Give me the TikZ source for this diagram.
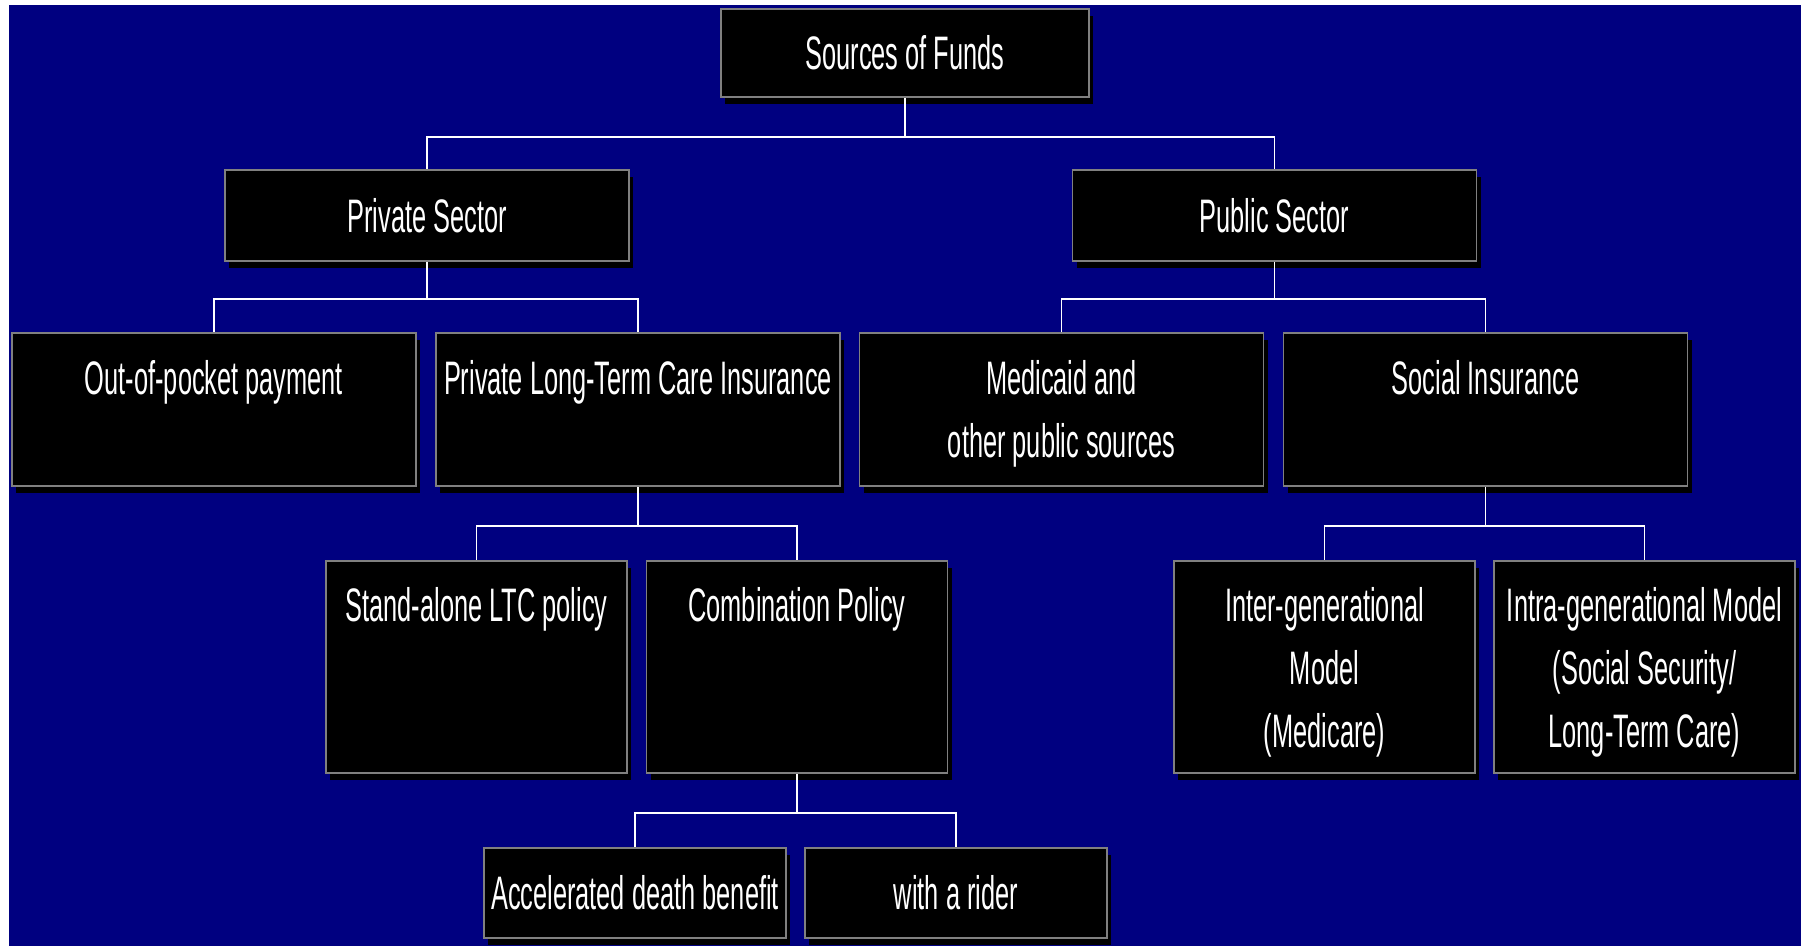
\documentclass[tikz,border=0pt]{standalone}
\usepackage{fontspec}
\setmainfont{Liberation Sans}[FakeStretch=0.54]
\usetikzlibrary{positioning,shadows}
\definecolor{slideblue}{RGB}{0,0,128}
\tikzset{
  fundbox/.style={draw=gray, line width=1.5pt, fill=black, inner sep=0pt,
    drop shadow={shadow xshift=4pt, shadow yshift=-7pt, opacity=1, fill=black},
    text=white, font=\fontsize{47}{63}\selectfont},
  fundtext/.style={inner sep=0pt, align=center, text=white, font=\fontsize{47}{63}\selectfont},
  link/.style={white, line width=1.6pt}
}

\begin{document}
\begin{tikzpicture}[x=1pt, y=-1pt]
            \useasboundingbox (0,0) rectangle (1804,946);
            \fill [slideblue] (9,5) rectangle (1801,946);
         % Top level
            \node [fundbox, minimum width=368, minimum height=88] (src) at (905,53) {Sources of Funds};
            \node [fundbox, minimum width=404, minimum height=91] (priv) at (427,215.5) {Private Sector};
            \node [fundbox, minimum width=404, minimum height=91] (pub) at (1274.5,215.5) {Public Sector};
         % Second level
            \node [fundbox, minimum width=404, minimum height=153] (oop) at (214,409.5) {};
            \node [fundbox, minimum width=404, minimum height=153] (pltc) at (638,409.5) {};
            \node [fundbox, minimum width=404, minimum height=153] (med) at (1061.5,409.5) {};
            \node [fundbox, minimum width=404, minimum height=153] (soc) at (1485.5,409.5) {};
            \node [fundtext, below=28pt of oop.north] (oopt) {Out-of-pocket payment};
            \node [fundtext, below=28pt of pltc.north] (pltct) {Private Long-Term Care Insurance};
            \node [fundtext, below=28pt of med.north] (medt) {Medicaid and\\other public sources};
            \node [fundtext, below=28pt of soc.north] (soct) {Social Insurance};
         % Third level
            \node [fundbox, minimum width=301, minimum height=212] (sa) at (476.5,667) {};
            \node [fundbox, minimum width=301, minimum height=212] (comb) at (797,667) {};
            \node [fundbox, minimum width=301, minimum height=212] (inter) at (1324.5,667) {};
            \node [fundbox, minimum width=301, minimum height=212] (intra) at (1644.5,667) {};
            \node [fundtext, below=27pt of sa.north] (sat) {Stand-alone LTC policy};
            \node [fundtext, below=27pt of comb.north] (combt) {Combination Policy};
            \node [fundtext, below=27pt of inter.north] (intert) {Inter-generational\\Model\\(Medicare)};
            \node [fundtext, below=27pt of intra.north] (intrat) {Intra-generational Model\\(Social Security/\\Long-Term Care)};
         % Bottom level
            \node [fundbox, minimum width=302, minimum height=90] (adb) at (635,893) {Accelerated death benefit};
            \node [fundbox, minimum width=302, minimum height=90] (rider) at (956,893) {with a rider};
         % Connectors
            \coordinate (b1) at (905,137);
            \coordinate (b2) at (427,299);
            \coordinate (b3) at (1274.5,299);
            \coordinate (b4) at (638,526);
            \coordinate (b5) at (1485.5,526);
            \coordinate (b6) at (797,813);
            \draw [link] (src.south) -- (b1) -| (priv.north);
            \draw [link] (b1) -| (pub.north);
            \draw [link] (priv.south) -- (b2) -| (oop.north);
            \draw [link] (b2) -| (pltc.north);
            \draw [link] (pub.south) -- (b3) -| (med.north);
            \draw [link] (b3) -| (soc.north);
            \draw [link] (pltc.south) -- (b4) -| (sa.north);
            \draw [link] (b4) -| (comb.north);
            \draw [link] (soc.south) -- (b5) -| (inter.north);
            \draw [link] (b5) -| (intra.north);
            \draw [link] (comb.south) -- (b6) -| (adb.north);
            \draw [link] (b6) -| (rider.north);
\end{tikzpicture}
\end{document}
